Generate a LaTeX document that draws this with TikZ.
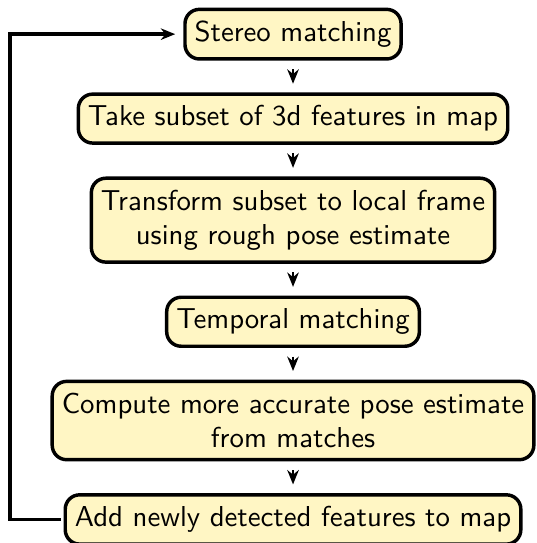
\documentclass[tikz,border=0pt]{standalone}
\usepackage{amsmath}
\usepackage{tikz}
\usetikzlibrary{positioning,arrows.meta,calc}
\definecolor{boxfill}{RGB}{255,246,196}

\begin{document}
\begin{tikzpicture}[node distance=11pt, font=\sffamily,
        stepbox/.style={draw, very thick, rounded corners=5pt, fill=boxfill, align=center, inner ysep=4pt},
        flow/.style={-{Stealth[length=5pt,width=4pt]}, thick, shorten <=3pt, shorten >=3pt}]
    \useasboundingbox (-101.7pt,11.85pt) rectangle (84.6pt,-176.6pt);
    \node[stepbox] (stereo) {Stereo matching};
    \node[stepbox, below=of stereo] (subset) {Take subset of 3d features in map};
    \node[stepbox, below=of subset] (transform) {Transform subset to local frame\\using rough pose estimate};
    \node[stepbox, below=of transform] (temporal) {Temporal matching};
    \node[stepbox, below=of temporal] (compute) {Compute more accurate pose estimate\\from matches};
    \node[stepbox, below=of compute] (add) {Add newly detected features to map};

    \draw[flow] (stereo) -- (subset);
    \draw[flow] (subset) -- (transform);
    \draw[flow] (transform) -- (temporal);
    \draw[flow] (temporal) -- (compute);
    \draw[flow] (compute) -- (add);
    % loop back to the top
    \draw[flow, very thick, shorten <=1pt, shorten >=2.8pt] (add.west) -| ([xshift=-14pt]compute.west) |- (stereo.west);
\end{tikzpicture}
\end{document}
